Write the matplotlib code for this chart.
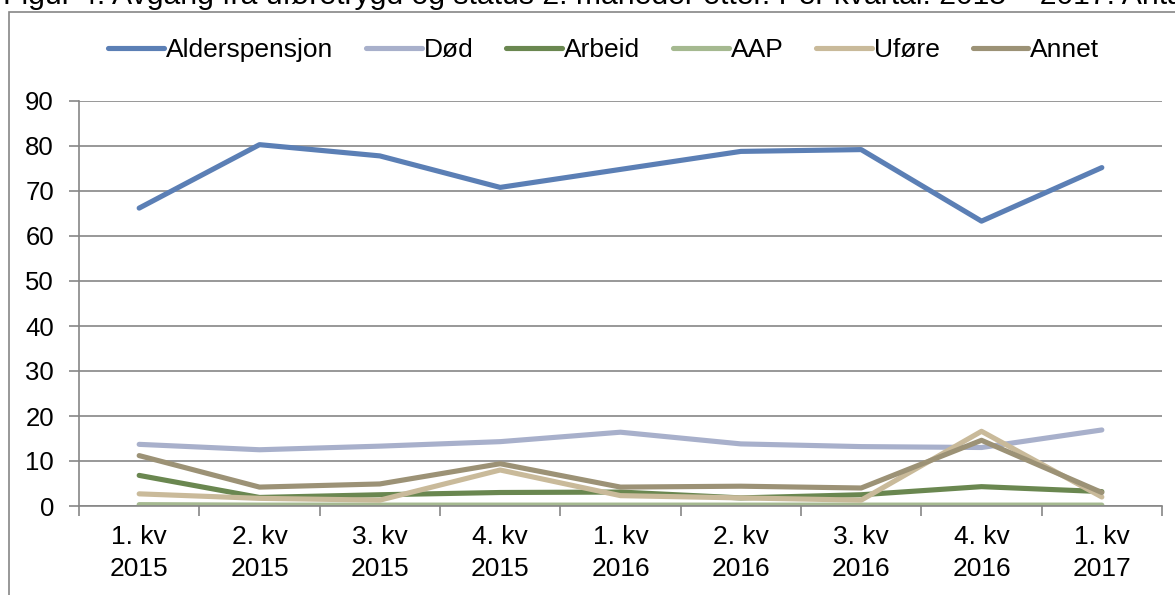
import matplotlib.pyplot as plt
from matplotlib.patches import Rectangle

plt.rcParams['font.family'] = ['Liberation Sans', 'DejaVu Sans']

# Data (antall)
kvartal = ['1. kv\n2015', '2. kv\n2015', '3. kv\n2015', '4. kv\n2015', '1. kv\n2016',
           '2. kv\n2016', '3. kv\n2016', '4. kv\n2016', '1. kv\n2017']
alderspensjon = [66.2, 80.3, 77.8, 70.8, 74.8, 78.8, 79.2, 63.3, 75.2]
dod = [13.7, 12.5, 13.3, 14.3, 16.4, 13.8, 13.2, 13.0, 16.9]
arbeid = [6.8, 1.9, 2.5, 3.0, 3.1, 1.8, 2.5, 4.3, 3.2]
aap = [0.3, 0.2, 0.2, 0.2, 0.2, 0.2, 0.2, 0.2, 0.2]
ufore = [2.7, 1.7, 1.3, 8.0, 2.3, 1.8, 1.3, 16.6, 2.0]
annet = [11.2, 4.2, 4.9, 9.4, 4.2, 4.4, 4.0, 14.6, 3.0]

series = [('Alderspensjon', alderspensjon, '#5b7fb5'),
          ('Død', dod, '#a8b0cb'),
          ('Arbeid', arbeid, '#6a8750'),
          ('AAP', aap, '#a5b990'),
          ('Uføre', ufore, '#c9ba9a'),
          ('Annet', annet, '#9c9276')]

fig = plt.figure(figsize=(11.75, 5.95), dpi=100)
ax = fig.add_axes([79 / 1175, 89 / 595, 1083 / 1175, 405 / 595])

x = range(len(kvartal))
for name, vals, col in series:
    ax.plot(x, vals, color=col, linewidth=3.7, label=name, solid_capstyle='round')

ax.set_xlim(-0.5, len(kvartal) - 0.5)
ax.set_ylim(0, 90)
ax.set_yticks(range(0, 91, 10))
ax.yaxis.grid(True, color='#868686', linewidth=1.2)
ax.set_axisbelow(True)
ax.set_xticks([i + 0.5 for i in range(-1, len(kvartal))], minor=False)
ax.set_xticklabels([])
ax.set_xticks(list(x), minor=True)
ax.set_xticklabels(kvartal, minor=True, fontsize=19, linespacing=1.4)
ax.tick_params(axis='x', which='minor', length=0, pad=14)
ax.tick_params(axis='x', which='major', length=7, color='#868686', width=1.2)
ax.tick_params(axis='y', length=7, color='#868686', width=1.2, labelsize=18.5, pad=11)
for s in ['top', 'right']:
    ax.spines[s].set_visible(False)
for s in ['left', 'bottom']:
    ax.spines[s].set_color('#868686')
    ax.spines[s].set_linewidth(1.2)

fig.legend(loc='center', bbox_to_anchor=(0.514, 1 - 50 / 595), ncol=6, frameon=False,
           fontsize=19, handlelength=2.1, handletextpad=0.08, columnspacing=1.25)

# outer chart frame and clipped caption at the top
fig.patches.append(Rectangle((9 / 1175, -0.1), 1.2, 1.1 - 12 / 595, transform=fig.transFigure,
                             fill=False, edgecolor='#868686', linewidth=1.2))
fig.text(3 / 1175, 1 - 4 / 595,
         'Figur 4. Avgang fra uføretrygd og status 2. måneder etter. Per kvartal. 2015 – 2017. Antall',
         fontsize=21.7, va='baseline', ha='left')

fig.savefig('out.png', dpi=100)
